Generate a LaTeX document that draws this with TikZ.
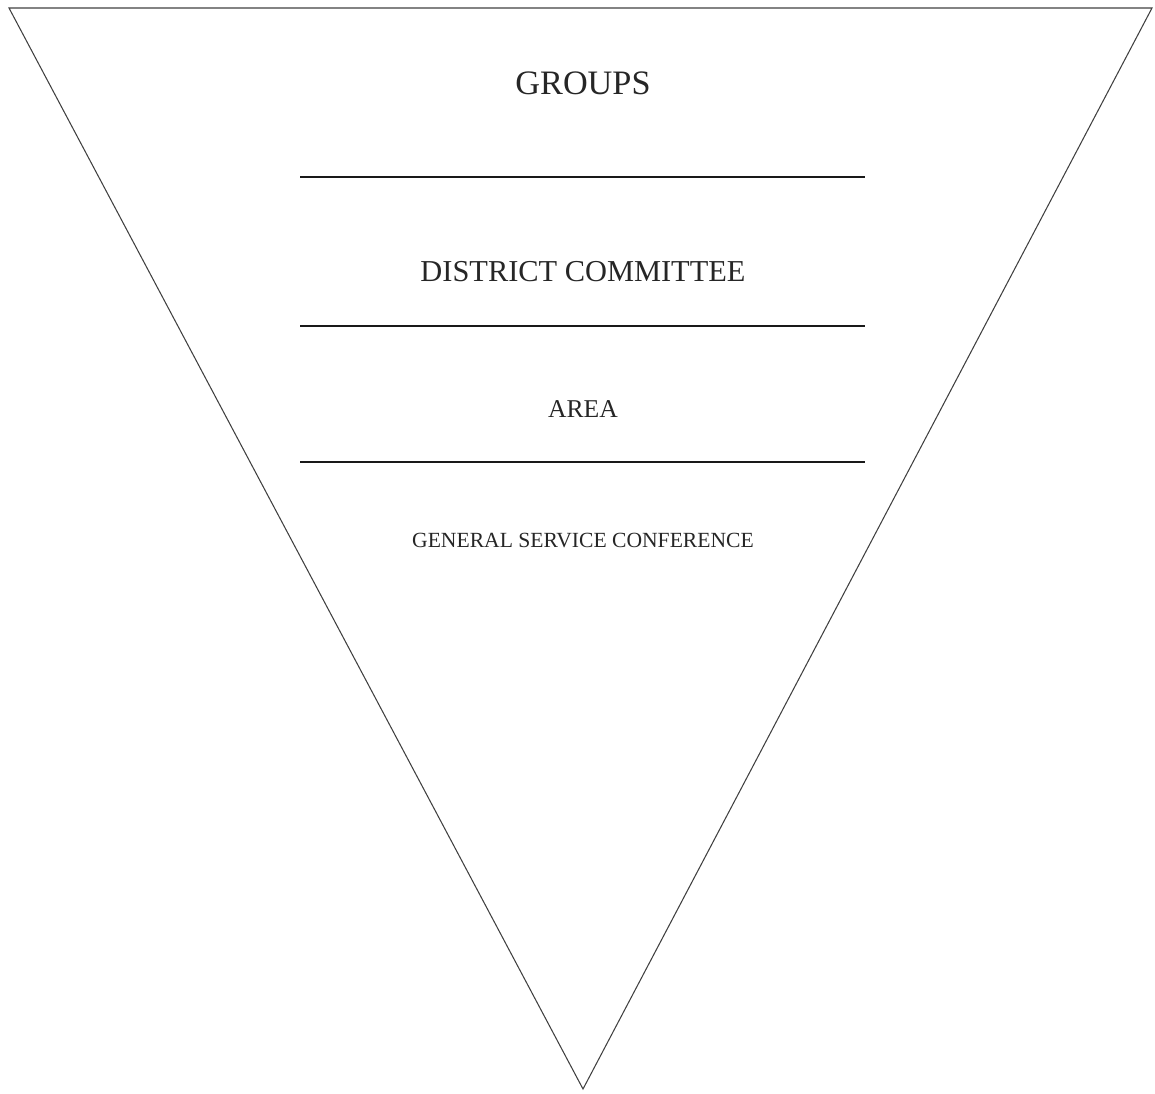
\documentclass[tikz,border=0pt]{standalone}
\usepackage{fontspec}
\setmainfont{Liberation Serif}
\usetikzlibrary{positioning}

\begin{document}
\begin{tikzpicture}[x=0.02cm, y=-0.02cm,
		level/.style={font=\fontsize{17.3}{20}\selectfont, text=black!85},
		divider/.style={line width=1.7pt, black!90}]
		
		\useasboundingbox (0,0) rectangle (1155,1094);
		
		% corners of the funnel
		\coordinate (tl) at (9,8);
		\coordinate (tr) at (1152,8);
		\coordinate (bot) at (583,1089);
		\draw[line width=0.6pt, black!75] (tl) -- (tr) -- (bot) -- cycle;
		
		% divider ends
		\coordinate (d1l) at (300,177);
		\coordinate (d1r) at (865,177);
		\coordinate (d2l) at (300,326);
		\coordinate (d2r) at (865,326);
		\coordinate (d3l) at (300,462);
		\coordinate (d3r) at (865,462);
		\draw[divider] (d1l) -- (d1r);
		\draw[divider] (d2l) -- (d2r);
		\draw[divider] (d3l) -- (d3r);
		
		\node[level, font=\fontsize{19.5}{22}\selectfont] (groups) at (583,83) {GROUPS};
		\node[level] (district) at (583,272) {DISTRICT COMMITTEE};
		\node[level, font=\fontsize{14.6}{17}\selectfont] (area) at (583,409) {AREA};
		\node[level, font=\fontsize{12.3}{15}\selectfont] (gsc) at (583,541) {GENERAL SERVICE CONFERENCE};
		
	\end{tikzpicture}
\end{document}
